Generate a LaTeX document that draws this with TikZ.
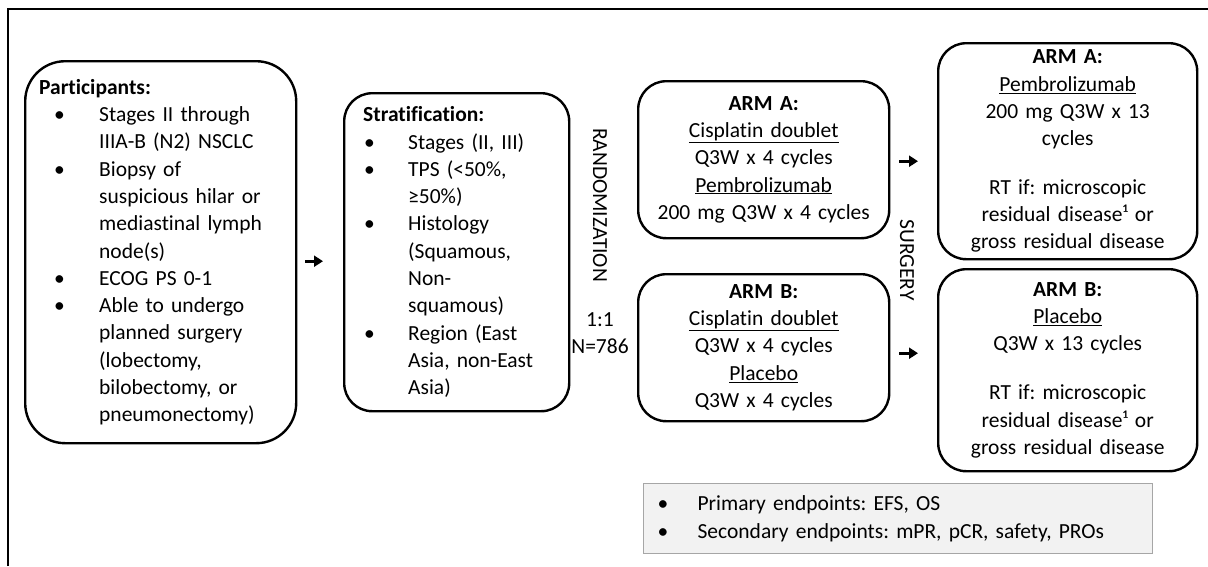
\documentclass[tikz,border=0pt]{standalone}
\usepackage{fontspec}
\setmainfont{Carlito}[Ligatures={NoCommon}]
\usetikzlibrary{arrows.meta,calc}
\frenchspacing
\newcommand\fs{\fontsize{21.5}{27.3}\selectfont\frenchspacing}
\newcommand\pbul{\hspace*{15pt}\makebox[45pt][l]{\textbullet}}
\newcommand\pind{\hspace*{60pt}}
\newcommand\sbul{\hspace*{1pt}\makebox[44pt][l]{\textbullet}}
\newcommand\sind{\hspace*{45pt}}
\newcommand\ebul{\makebox[40pt][l]{\textbullet}}
\begin{document}
\begin{tikzpicture}[x=1pt,y=-1pt,
  box/.style={draw, line width=2.4pt, rounded corners=28pt, inner sep=0pt, font=\fs, anchor=north west},
  lbox/.style={box, align=left},
  cbox/.style={box, align=center, inner xsep=10pt},
  arr/.style={line width=3pt, -{Triangle[length=9pt,width=11pt]}},
  lab/.style={font=\fs, inner sep=0pt}]
\useasboundingbox (0,0) rectangle (1208,566);
\draw[line width=2pt] (8,566) -- (8,9) -- (1208,9);

\node[lbox, rounded corners=40pt, inner xsep=14pt, text width=243pt, minimum width=271pt, minimum height=382pt] (part) at (24,60) {%
\textbf{Participants:}\\
\pbul Stages II through\\
\pind IIIA-B (N2) NSCLC\\
\pbul Biopsy of\\
\pind suspicious hilar or\\
\pind mediastinal lymph\\
\pind node(s)\\
\pbul ECOG PS 0-1\\
\pbul Able to undergo\\
\pind planned surgery\\
\pind (lobectomy,\\
\pind bilobectomy, or\\
\pind pneumonectomy)};

\node[lbox, inner xsep=19pt, text width=187pt, minimum width=225pt, minimum height=318pt] (strat) at (343,92) {%
\textbf{Stratification:}\\
\sbul Stages (II, III)\\
\sbul TPS (<50\%,\\
\sind ≥50\%)\\
\sbul Histology\\
\sind (Squamous,\\
\sind Non-\\
\sind squamous)\\
\sbul Region (East\\
\sind Asia, non-East\\
\sind Asia)};

\node[lab, rotate=-90] (rand) at (600,205) {RANDOMIZATION};
\node[lab] (ratio) at (600,320) {1:1};
\node[lab] (num) at (600,346) {N=786};

\node[cbox, text width=231pt, minimum width=251pt, minimum height=157pt] (midA) at (637,80) {%
\textbf{ARM A:}\\
\underline{Cisplatin doublet}\\
Q3W x 4 cycles\\
\underline{Pembrolizumab}\\
200 mg Q3W x 4 cycles};

\node[cbox, text width=231pt, minimum width=251pt, minimum height=147pt] (midB) at (637,273) {%
\textbf{ARM B:}\\
\underline{Cisplatin doublet}\\
Q3W x 4 cycles\\
\underline{Placebo}\\
Q3W x 4 cycles};

\node[lab, rotate=-90] (surg) at (907,260) {SURGERY};

\node[cbox, text width=239pt, minimum width=259pt, minimum height=216pt] (rightA) at (937,42) {%
\textbf{ARM A:}\\
\underline{Pembrolizumab}\\
200 mg Q3W x 13\\
cycles\\[21pt]
RT if: microscopic\\
residual disease¹ or\\
gross residual disease};

\node[cbox, text width=239pt, minimum width=259pt, minimum height=202pt] (rightB) at (937,268) {%
\textbf{ARM B:}\\
\underline{Placebo}\\
Q3W x 13 cycles\\[22pt]
RT if: microscopic\\
residual disease¹ or\\
gross residual disease};

\node[box, draw=black!35, fill=black!5, line width=1.2pt, rounded corners=0pt, align=left, inner xsep=14pt, text width=481pt, minimum width=509pt, minimum height=70pt, font=\fontsize{21.5}{28}\selectfont\frenchspacing] (endp) at (643,483) {%
\ebul Primary endpoints: EFS, OS\\
\ebul Secondary endpoints: mPR, pCR, safety, PROs};

\draw[arr, shorten <=8pt, shorten >=20pt] ([yshift=-9pt]part.east) -- ([yshift=-9pt]strat.west);
\coordinate (aS) at ([yshift=-1.5pt]midA.east);
\draw[arr, shorten <=9pt, shorten >=19pt] (aS) -- (aS -| rightA.west);
\coordinate (bS) at ([yshift=-5.5pt]midB.east);
\draw[arr, shorten <=9pt, shorten >=19pt] (bS) -- (bS -| rightB.west);
\end{tikzpicture}
\end{document}
